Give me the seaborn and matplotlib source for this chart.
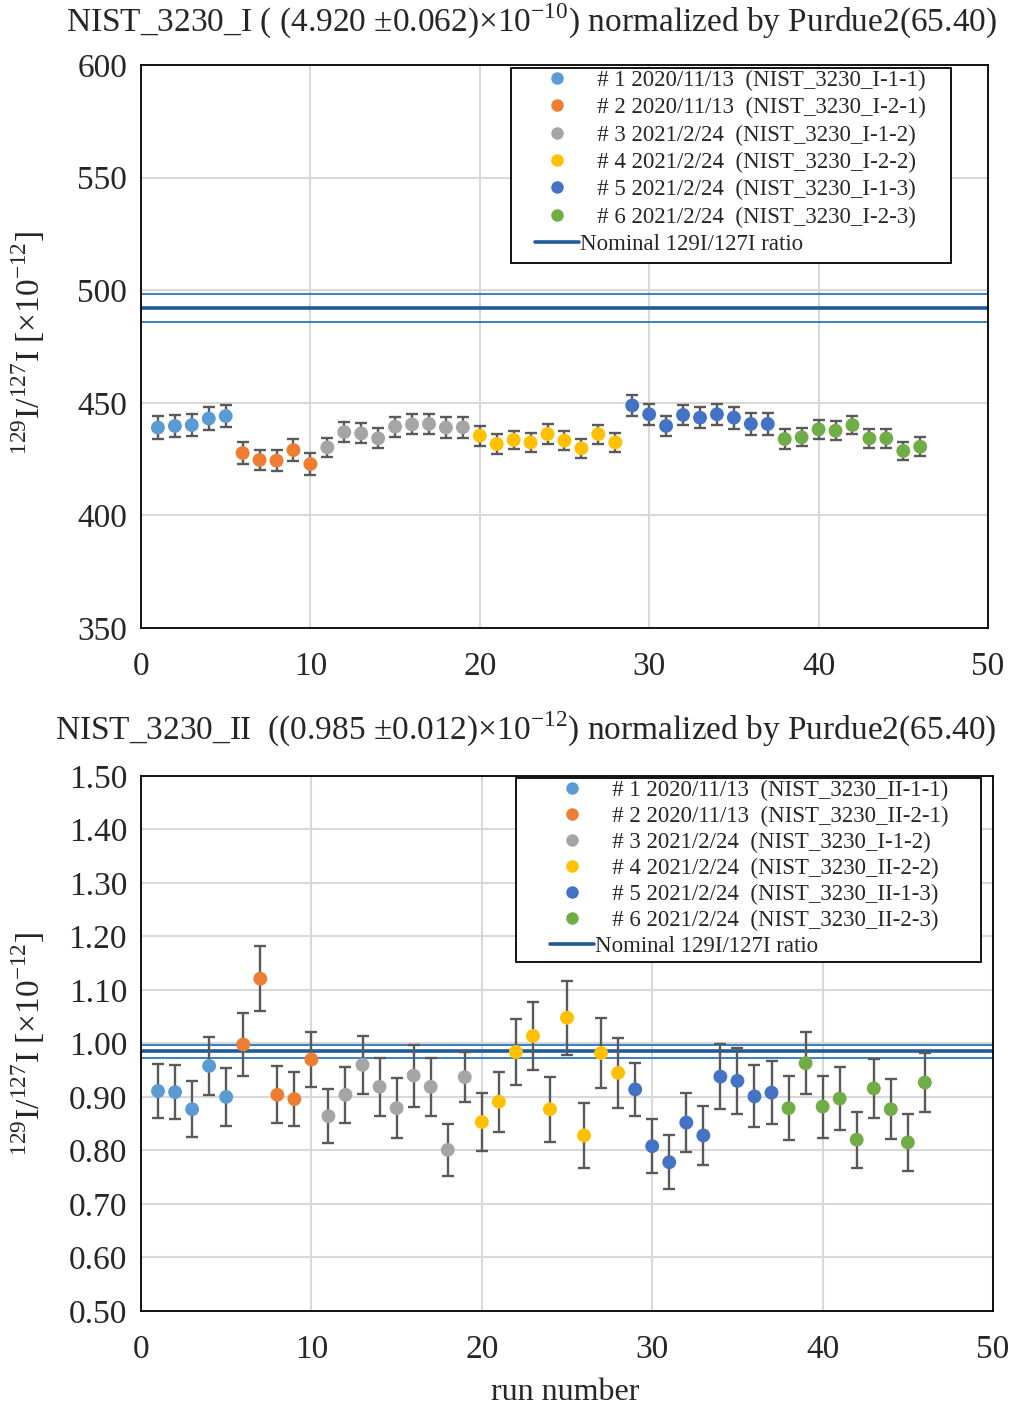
import numpy as np
import pandas as pd
import matplotlib
matplotlib.use("Agg")
import matplotlib.pyplot as plt
import seaborn as sns
from matplotlib.lines import Line2D
from matplotlib.patches import Rectangle
from matplotlib.ticker import FormatStrFormatter

# ---------------- data ----------------
run = list(range(1, 47))
group_sizes = [5, 5, 9, 9, 9, 9]

top_vals = [439.0, 439.7, 440.1, 443.0, 444.1,
            427.7, 424.6, 424.3, 429.0, 422.8,
            430.2, 437.0, 436.4, 434.2, 439.4, 440.4, 440.6, 439.0, 439.1,
            435.4, 431.7, 433.5, 432.4, 436.1, 433.2, 429.8, 436.1, 432.4,
            448.8, 444.9, 439.7, 444.6, 443.4, 444.9, 443.4, 440.6, 440.6,
            433.9, 434.7, 438.2, 437.6, 440.1, 434.2, 434.2, 428.6, 430.5]
top_err = [5.1, 5.0, 5.0, 5.0, 5.0,
           4.8, 4.6, 4.7, 4.8, 5.0,
           4.3, 4.3, 4.4, 4.4, 4.4, 4.4, 4.4, 4.7, 4.6,
           4.4, 4.3, 4.1, 4.2, 4.4, 4.2, 4.2, 4.2, 4.4,
           4.7, 4.7, 4.6, 4.6, 4.7, 4.6, 4.9, 4.7, 4.7,
           4.3, 4.1, 4.1, 4.2, 4.1, 4.2, 4.2, 4.2, 4.2]

bot_vals = [0.911, 0.909, 0.877, 0.958, 0.900,
            0.998, 1.121, 0.904, 0.896, 0.970,
            0.864, 0.904, 0.960, 0.919, 0.879, 0.940, 0.919, 0.801, 0.937,
            0.853, 0.891, 0.984, 1.014, 0.877, 1.048, 0.828, 0.982, 0.945,
            0.914, 0.808, 0.778, 0.852, 0.828, 0.938, 0.930, 0.901, 0.908,
            0.879, 0.963, 0.882, 0.897, 0.820, 0.916, 0.877, 0.815, 0.927]
bot_err = [0.051, 0.051, 0.052, 0.054, 0.055,
           0.059, 0.061, 0.053, 0.050, 0.051,
           0.051, 0.052, 0.054, 0.054, 0.056, 0.058, 0.054, 0.049, 0.047,
           0.054, 0.056, 0.061, 0.063, 0.061, 0.069, 0.060, 0.065, 0.065,
           0.050, 0.050, 0.050, 0.055, 0.055, 0.061, 0.061, 0.058, 0.059,
           0.060, 0.058, 0.058, 0.059, 0.052, 0.055, 0.056, 0.054, 0.056]

top_labels = ["# 1 2020/11/13  (NIST_3230_I-1-1)",
              "# 2 2020/11/13  (NIST_3230_I-2-1)",
              "# 3 2021/2/24  (NIST_3230_I-1-2)",
              "# 4 2021/2/24  (NIST_3230_I-2-2)",
              "# 5 2021/2/24  (NIST_3230_I-1-3)",
              "# 6 2021/2/24  (NIST_3230_I-2-3)"]
bot_labels = ["# 1 2020/11/13  (NIST_3230_II-1-1)",
              "# 2 2020/11/13  (NIST_3230_II-2-1)",
              "# 3 2021/2/24  (NIST_3230_I-1-2)",
              "# 4 2021/2/24  (NIST_3230_II-2-2)",
              "# 5 2021/2/24  (NIST_3230_II-1-3)",
              "# 6 2021/2/24  (NIST_3230_II-2-3)"]
colors = ["#5B9BD5", "#ED7D31", "#A5A5A5", "#FFC000", "#4472C4", "#70AD47"]

top_nominal, top_nominal_err = 492.0, 6.2
bot_nominal, bot_nominal_err = 0.985, 0.012

top_title = r"NIST_3230_I ( (4.920 ±0.062)×10$^{\mathregular{-10}}$) normalized by Purdue2(65.40)"
bot_title = r"NIST_3230_II  ((0.985 ±0.012)×10$^{\mathregular{-12}}$) normalized by Purdue2(65.40)"
ylabel = r"$^{\mathregular{129}}$I/$^{\mathregular{127}}$I [×10$^{\mathregular{-12}}$]"

# ---------------- style ----------------
sns.set_theme(style="white")
plt.rcParams["font.family"] = ["Liberation Serif", "DejaVu Serif"]
plt.rcParams["mathtext.fontset"] = "custom"
plt.rcParams["mathtext.rm"] = "Liberation Serif"

grp = []
for i, n in enumerate(group_sizes):
    grp += [i] * n

fig = plt.figure(figsize=(10.10, 14.09), dpi=100)
ax1 = fig.add_axes([0.1396, 0.5543, 0.8386, 0.3996])
ax2 = fig.add_axes([0.1396, 0.0696, 0.8436, 0.3797])


def draw(ax, vals, errs, labels, nominal, nerr, ylim, yticks, fmt,
         leg_anchor, frame_box, lspace):
    df = pd.DataFrame({"run": run, "val": vals, "err": errs,
                       "grp": [labels[g] for g in grp]})
    ax.errorbar(df["run"], df["val"], yerr=df["err"], fmt="none",
                ecolor="#595959", elinewidth=1.7, capsize=4, capthick=1.7, zorder=2)
    sns.scatterplot(data=df, x="run", y="val", hue="grp", hue_order=labels,
                    palette=colors, s=100, edgecolor="none", ax=ax, zorder=3,
                    legend=False)
    ax.axhline(nominal, color="#1F5C99", lw=2.6, zorder=1.5)
    ax.axhline(nominal + nerr, color="#2E75B6", lw=1.3, zorder=1.5)
    ax.axhline(nominal - nerr, color="#2E75B6", lw=1.3, zorder=1.5)
    ax.set_xlim(0, 50)
    ax.set_ylim(*ylim)
    ax.set_xticks(range(0, 51, 10))
    ax.set_yticks(yticks)
    ax.yaxis.set_major_formatter(FormatStrFormatter(fmt))
    ax.grid(True, color="#D9D9D9", lw=1.5)
    ax.set_axisbelow(True)
    for s in ax.spines.values():
        s.set_visible(True)
        s.set_color("black")
        s.set_linewidth(1.3)
    ax.tick_params(axis="y", labelsize=24, length=0, pad=10)
    ax.tick_params(axis="x", labelsize=24, length=0, pad=17)
    ax.set_xlabel("")
    ax.set_ylabel("")
    handles = [Line2D([], [], ls="none", marker="o", ms=9, mfc=c, mec="none",
                      label="   " + l)
               for c, l in zip(colors, labels)]
    handles.append(Line2D([], [], color="#1F5C99", lw=2.6, label="Nominal 129I/127I ratio"))
    leg = ax.legend(handles=handles, loc="upper left", bbox_to_anchor=leg_anchor,
                    fontsize=16.5, frameon=False, handlelength=1.9,
                    handletextpad=0.05, labelspacing=lspace, borderpad=0.0,
                    borderaxespad=0)
    leg.set_zorder(6)
    x0, y0, x1, y1 = frame_box
    ax.add_patch(Rectangle((x0, y0), x1 - x0, y1 - y0, transform=ax.transAxes,
                           facecolor="white", edgecolor="black", lw=1.3,
                           zorder=5.5, clip_on=False))


draw(ax1, top_vals, top_err, top_labels, top_nominal, top_nominal_err,
     (350, 600), range(350, 601, 50), "%d",
     (0.4652, 0.9911), (0.4368, 0.6483, 0.9563, 0.9947), 0.27)
draw(ax2, bot_vals, bot_err, bot_labels, bot_nominal, bot_nominal_err,
     (0.5, 1.5), np.arange(0.5, 1.501, 0.1), "%.2f",
     (0.4800, 0.9925), (0.4401, 0.6523, 0.9859, 0.9963), 0.21)

fig.text(0.526, 0.985, top_title, ha="center", va="center", fontsize=24)
fig.text(0.521, 0.482, bot_title, ha="center", va="center", fontsize=24)
fig.text(0.028, 0.757, ylabel, ha="center", va="center", rotation=90, fontsize=24)
fig.text(0.028, 0.259, ylabel, ha="center", va="center", rotation=90, fontsize=24)
fig.text(0.56, 0.012, "run number", ha="center", va="center", fontsize=23)

fig.savefig("out.png", dpi=100)
